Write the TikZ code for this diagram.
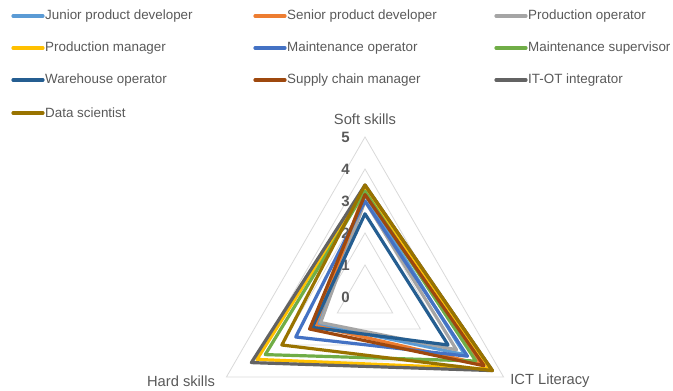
\documentclass[tikz,border=0pt]{standalone}
\usepackage{fontspec}
\setmainfont{Liberation Sans}
\definecolor{txtgray}{HTML}{595959}
\definecolor{gridgray}{HTML}{D9D9D9}
\definecolor{juniordev}{HTML}{5B9BD5}
\definecolor{seniordev}{HTML}{ED7D31}
\definecolor{prodop}{HTML}{A5A5A5}
\definecolor{prodman}{HTML}{FFC000}
\definecolor{maintop}{HTML}{4472C4}
\definecolor{maintsup}{HTML}{70AD47}
\definecolor{wareop}{HTML}{255E91}
\definecolor{supplyman}{HTML}{9E480E}
\definecolor{itot}{HTML}{636363}
\definecolor{datasci}{HTML}{997300}
\tikzset{
  series/.style={line width=3.2pt, line join=round},
  legtext/.style={anchor=west, inner sep=0pt, text=txtgray, font=\fontsize{13.4}{14}\selectfont},
  axislabel/.style={inner sep=0pt, text=txtgray, font=\fontsize{14.7}{16}\selectfont},
  ticklabel/.style={anchor=east, inner sep=0pt, text=txtgray, font=\fontsize{15}{16}\selectfont\bfseries},
  gridline/.style={draw=gridgray, line width=0.8pt}
}
\begin{document}
\begin{tikzpicture}[x=1pt, y=1pt]
        \useasboundingbox (0,0) rectangle (673,-391);
        % legend
        \foreach \i/\col/\lab/\lx/\ly in {1/juniordev/Junior product developer/13/16, 2/seniordev/Senior product developer/255/16, 3/prodop/Production operator/496/16, 4/prodman/Production manager/13/48, 5/maintop/Maintenance operator/255/48, 6/maintsup/Maintenance supervisor/496/48, 7/wareop/Warehouse operator/13/80, 8/supplyman/Supply chain manager/255/80, 9/itot/IT-OT integrator/496/80, 10/datasci/Data scientist/13/113} {
            \coordinate (leg\i) at (\lx,-\ly);
            \node[legtext] (legtxt\i) at (\lx+32,-\ly) {\lab};
            \draw[series, \col, line cap=round] (leg\i) -- ([xshift=-2pt]legtxt\i.west);
        }

        % radar chart
        \begin{scope}[shift={(365,-297)}, x=32pt, y=32pt]
            \coordinate (centre) at (0,0);
            \foreach \l in {1,...,5}
                \draw[gridline] (90:\l) -- (210:\l) -- (330:\l) -- cycle;
            \foreach \l in {0,...,5}
                \node[ticklabel] (tick\l) at (-0.47,\l) {\l};
            \node[axislabel] (soft) at (0,5.56) {Soft skills};
            \node[axislabel] (hard) at (-5.75,-2.63) {Hard skills};
            \node[axislabel] (ict) at (5.78,-2.63) {ICT Literacy};

            \foreach \col/\s/\i/\h in {juniordev/3.2/3.6/1.7, seniordev/3.3/4.2/1.8, prodop/3.0/3.3/1.6, prodman/3.4/4.5/3.9, maintop/3.0/3.7/2.5, maintsup/3.3/4.0/3.6, wareop/2.6/3.0/1.9, supplyman/3.2/4.3/2.0, itot/3.5/4.6/4.1, datasci/3.5/4.6/3.0}
                \draw[series, \col] (90:\s) -- (330:\i) -- (210:\h) -- cycle;
        \end{scope}
    \end{tikzpicture}
\end{document}
